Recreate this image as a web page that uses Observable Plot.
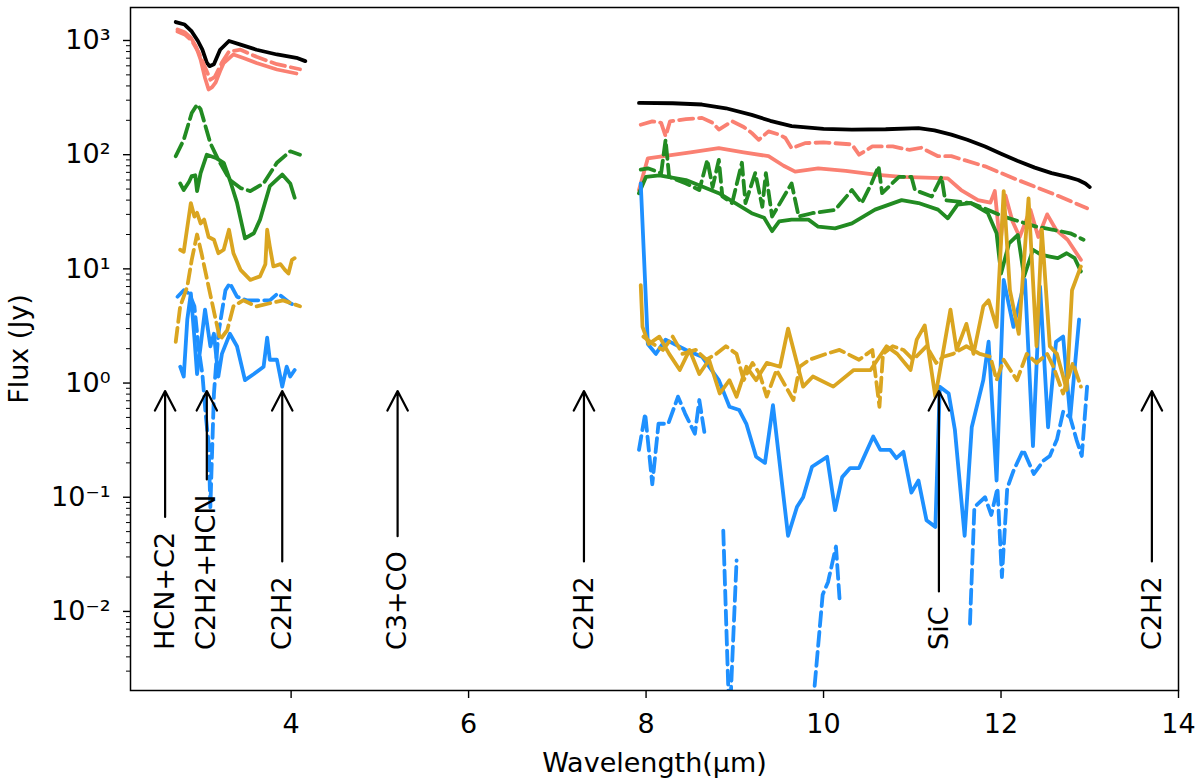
<!DOCTYPE html>
<html>
<head>
<meta charset="utf-8">
<script src="https://cdn.jsdelivr.net/npm/d3@7"></script>
<script src="https://cdn.jsdelivr.net/npm/@observablehq/plot@0.6"></script>
<style>
    body { margin: 0; background: white; }
</style>
</head>
<body>
<div id="chart"></div>
<script>
// spectra: [wavelength (µm), flux (Jy)], null = gap
const blackSolid = [
    [2.70, 1450], [2.80, 1380], [2.88, 1200], [2.95, 990], [3.00, 830], [3.05, 640], [3.08, 596],
    [3.13, 620], [3.20, 830], [3.30, 990], [3.43, 920], [3.61, 830], [3.84, 754], [4.06, 705], [4.16, 660],
    [5.5, null],
    [7.92, 284], [8.30, 282], [8.63, 275], [8.90, 255], [9.19, 223], [9.40, 198], [9.64, 178], [10.0, 168],
    [10.32, 166], [10.70, 167], [11.07, 171], [11.25, 163], [11.44, 150], [11.62, 135], [11.82, 118],
    [12.0, 102], [12.19, 88], [12.38, 77], [12.57, 69], [12.75, 64], [12.87, 60], [12.95, 56], [13.0, 52]
];
const salmonSolid = [
    [2.72, 1250], [2.80, 1180], [2.87, 1060], [2.93, 880], [2.98, 680], [3.03, 470], [3.07, 372],
    [3.11, 390], [3.15, 430], [3.20, 540], [3.24, 635], [3.35, 755], [3.47, 700], [3.61, 635],
    [3.84, 557], [4.06, 514],
    [5.5, null],
    [7.92, 49], [8.02, 93], [8.20, 97], [8.50, 105], [8.82, 114], [9.10, 105], [9.38, 97], [9.55, 80],
    [9.68, 71], [9.94, 76], [10.25, 72], [10.58, 67], [10.88, 64], [11.15, 63], [11.40, 62], [11.55, 49],
    [11.74, 40], [11.88, 38], [11.93, 48], [11.99, 16], [12.05, 44], [12.13, 26], [12.21, 19], [12.33, 33],
    [12.42, 19], [12.52, 30], [12.62, 22], [12.75, 18], [12.90, 12]
];
const salmonDashed = [
    [2.72, 1200], [2.80, 1130], [2.88, 1000], [2.96, 780], [3.04, 560], [3.09, 453], [3.14, 480],
    [3.22, 640], [3.30, 800], [3.43, 830], [3.61, 720], [3.84, 620], [4.10, 560],
    [5.5, null],
    [7.94, 183], [8.07, 196], [8.17, 190], [8.22, 145], [8.27, 196], [8.45, 205], [8.63, 210], [8.75, 190],
    [8.82, 166], [8.97, 196], [9.10, 175], [9.19, 155], [9.27, 135], [9.38, 160], [9.50, 150], [9.57, 140],
    [9.64, 114], [9.79, 126], [10.0, 128], [10.32, 123], [10.40, 100], [10.55, 118], [10.78, 118],
    [10.97, 110], [11.10, 115], [11.29, 97], [11.44, 97], [11.82, 79], [12.19, 60], [12.57, 46], [12.97, 34]
];
const greenSolid = [
    [2.75, 56], [2.79, 49], [2.85, 58], [2.88, 65], [2.92, 66], [2.94, 48], [2.98, 69], [3.05, 100],
    [3.16, 93], [3.24, 85], [3.31, 60], [3.39, 38], [3.48, 18.5], [3.58, 20.5], [3.65, 27], [3.76, 53],
    [3.90, 67], [3.99, 56], [4.04, 42],
    [5.5, null],
    [7.92, 46], [8.00, 64], [8.15, 66], [8.45, 60], [8.82, 46], [9.19, 30.7], [9.33, 28], [9.42, 21.4],
    [9.50, 26], [9.64, 27], [9.83, 27], [9.94, 23.4], [10.13, 22.6], [10.32, 25], [10.58, 33], [10.88, 40],
    [11.07, 37.7], [11.29, 33], [11.40, 27.7], [11.51, 36.5], [11.66, 37.7], [11.85, 31], [11.95, 20.5],
    [12.0, 9.1], [12.09, 16.7], [12.19, 19.8], [12.26, 8.6], [12.36, 14.7], [12.45, 13.3], [12.55, 12.8],
    [12.64, 12.4], [12.74, 13.7], [12.83, 12.4], [12.90, 9.5]
];
const greenDashed = [
    [2.70, 97], [2.79, 135], [2.88, 232], [2.94, 275], [2.98, 250], [3.09, 126], [3.18, 90], [3.31, 60],
    [3.43, 51], [3.54, 48], [3.69, 56], [3.84, 85], [3.99, 107], [4.10, 100],
    [5.5, null],
    [7.94, 74], [8.02, 76], [8.17, 69], [8.22, 135], [8.26, 64], [8.45, 56], [8.60, 49], [8.69, 90],
    [8.75, 52], [8.82, 90], [8.86, 43], [8.97, 37.7], [9.08, 85], [9.12, 37.7], [9.23, 69], [9.31, 35],
    [9.35, 69], [9.42, 28.7], [9.64, 56], [9.72, 28.7], [9.87, 30.7], [10.13, 32.8], [10.32, 49],
    [10.43, 37.7], [10.54, 56], [10.62, 79], [10.66, 46], [10.85, 64], [10.99, 64], [11.03, 49],
    [11.22, 43], [11.33, 64], [11.37, 40], [11.66, 37.7], [11.85, 33], [12.03, 28.7], [12.40, 23.4],
    [12.59, 22], [12.78, 20.5], [12.93, 18]
];
const goldSolid = [
    [2.75, 14.7], [2.79, 14.1], [2.87, 37.7], [2.91, 28.7], [2.94, 31], [2.98, 25], [3.02, 27],
    [3.07, 19], [3.13, 18], [3.18, 13.7], [3.24, 14.7], [3.30, 22], [3.35, 13.7], [3.43, 9.8], [3.54, 8],
    [3.65, 8.6], [3.71, 11], [3.73, 22], [3.76, 15.7], [3.80, 10.5], [3.88, 11], [3.93, 9.8], [3.97, 9.1],
    [4.01, 12], [4.04, 12.4],
    [5.5, null],
    [7.94, 7.2], [7.96, 3.1], [8.03, 2.2], [8.15, 2.55], [8.26, 1.8], [8.38, 1.3], [8.49, 1.95], [8.60, 1.2],
    [8.71, 1.6], [8.83, 0.81], [8.94, 1.06], [9.02, 0.76], [9.13, 1.39], [9.24, 1.06], [9.36, 1.5],
    [9.51, 1.39], [9.60, 3.0], [9.77, 0.93], [9.88, 1.14], [10.11, 0.93], [10.34, 1.3], [10.53, 1.3],
    [10.71, 2.1], [10.83, 1.8], [10.98, 1.3], [11.05, 2.4], [11.14, 3.2], [11.26, 0.76], [11.43, 4.4],
    [11.50, 1.95], [11.61, 3.3], [11.69, 1.8], [11.80, 4.7], [11.86, 5.3], [11.95, 3.1], [12.03, 48],
    [12.10, 6.5], [12.20, 2.7], [12.31, 41.5], [12.40, 2.1], [12.46, 22], [12.55, 2.1], [12.63, 1.8],
    [12.70, 1.14], [12.74, 0.87], [12.80, 6.5], [12.90, 10.5]
];
const goldDashed = [
    [2.70, 2.3], [2.75, 4.7], [2.83, 7], [2.88, 12], [2.94, 20], [2.99, 13.7], [3.07, 7], [3.15, 3.6],
    [3.20, 2.4], [3.28, 2.9], [3.35, 4.7], [3.46, 5.3], [3.61, 4.7], [3.76, 5], [3.91, 5.3], [4.10, 4.7],
    [5.5, null],
    [7.97, 2.55], [8.08, 2.2], [8.19, 1.95], [8.30, 2.55], [8.41, 1.8], [8.56, 1.95], [8.68, 1.6],
    [8.79, 1.8], [8.90, 2.1], [9.02, 1.8], [9.10, 1.06], [9.20, 1.5], [9.28, 1.2], [9.36, 0.76], [9.47, 1.3],
    [9.66, 0.71], [9.73, 1.39], [9.84, 1.6], [10.03, 1.8], [10.18, 1.95], [10.40, 1.6], [10.55, 1.95],
    [10.63, 0.62], [10.67, 1.8], [10.78, 2.1], [10.90, 1.95], [11.01, 1.6], [11.16, 2.1], [11.27, 1.5],
    [11.35, 1.7], [11.46, 1.8], [11.61, 2.1], [11.76, 1.8], [11.88, 1.7], [11.95, 1.06], [12.03, 1.6],
    [12.18, 1.06], [12.29, 1.8], [12.40, 1.5], [12.52, 1.8], [12.59, 1.39], [12.70, 0.81], [12.81, 1.5],
    [12.90, 0.93]
];
const blueSolid = [
    [2.75, 1.39], [2.79, 1.14], [2.83, 3.6], [2.87, 6.1], [2.91, 2.5], [2.94, 1.2], [2.98, 2.1],
    [3.03, 4.4], [3.09, 2.1], [3.13, 2.7], [3.18, 1.14], [3.22, 1.8], [3.31, 2.7], [3.39, 2.1], [3.48, 1.06],
    [3.58, 1.2], [3.69, 1.39], [3.73, 2.5], [3.76, 1.6], [3.84, 1.6], [3.90, 0.93], [3.95, 1.39],
    [3.99, 1.14], [4.04, 1.3],
    [5.5, null],
    [7.94, 56], [8.02, 2.2], [8.11, 1.8], [8.22, 2.4], [8.45, 1.95], [8.63, 1.7], [8.82, 1.06], [8.94, 0.62],
    [9.05, 0.58], [9.13, 0.44], [9.24, 0.226], [9.34, 0.2], [9.43, 0.64], [9.60, 0.046], [9.70, 0.082],
    [9.77, 0.1], [9.87, 0.185], [10.04, 0.226], [10.13, 0.077], [10.21, 0.15], [10.30, 0.18], [10.40, 0.18],
    [10.45, 0.22], [10.56, 0.34], [10.64, 0.26], [10.75, 0.26], [10.82, 0.22], [10.90, 0.25], [10.99, 0.11],
    [11.07, 0.14], [11.16, 0.063], [11.26, 0.055], [11.31, 0.93], [11.41, 0.81], [11.48, 0.39],
    [11.59, 0.046], [11.67, 0.41], [11.80, 1.06], [11.86, 2.3], [11.95, 0.14], [12.03, 8], [12.14, 3.1],
    [12.27, 8], [12.36, 0.28], [12.44, 7], [12.53, 0.41], [12.62, 2.3], [12.70, 2.55], [12.78, 0.5],
    [12.88, 3.6]
];
const blueDashed = [
    [2.72, 5.7], [2.79, 6.5], [2.85, 6.1], [2.91, 4.7], [2.96, 1.95], [3.00, 1.2], [3.04, 0.5], [3.07, 0.3],
    [3.09, 0.082], [3.13, 0.8], [3.18, 2.7], [3.26, 6.5], [3.31, 7.5], [3.39, 5.7], [3.50, 5.3], [3.65, 5.3],
    [3.76, 5.3], [3.85, 6.1], [3.99, 5], [4.07, 4.7],
    [5.5, null],
    [7.92, 0.26], [7.99, 0.54], [8.07, 0.13], [8.14, 0.44], [8.25, 0.44], [8.36, 0.76], [8.44, 0.54],
    [8.55, 0.36], [8.60, 0.71], [8.66, 0.36],
    [8.75, null],
    [8.87, 0.051], [8.94, 0.001], [9.02, 0.028],
    [9.4, null],
    [9.86, 0.001], [9.99, 0.014], [10.05, 0.018], [10.14, 0.037], [10.18, 0.013],
    [11.0, null],
    [11.65, 0.0078], [11.70, 0.082], [11.82, 0.1], [11.89, 0.07], [11.96, 0.12], [12.01, 0.02],
    [12.07, 0.12], [12.14, 0.17], [12.25, 0.26], [12.37, 0.16], [12.48, 0.21], [12.55, 0.23],
    [12.63, 0.32], [12.70, 0.56], [12.78, 0.5], [12.85, 0.32], [12.91, 0.23], [12.97, 0.93]
];

// line identifications
const lineLabels = ["HCN+C2", "C2H2+HCN", "C2H2", "C3+CO", "C2H2", "SiC", "C2H2"];
const lineWavelengths = [2.58, 3.05, 3.90, 5.20, 7.30, 11.30, 13.70];
const arrowTip = 1;
const labelBase = 0.0046;

const xTicks = [4, 6, 8, 10, 12, 14];
const yTicks = [1e-2, 1e-1, 1, 10, 100, 1000];

const xDomain = [2.19, 14.0];
const yDomain = [0.00203, 1945];

const series = [
    { data: blackSolid, color: "black", dashed: false },
    { data: salmonSolid, color: "#FA8072", dashed: false },
    { data: salmonDashed, color: "#FA8072", dashed: true },
    { data: greenSolid, color: "#228B22", dashed: false },
    { data: greenDashed, color: "#228B22", dashed: true },
    { data: blueSolid, color: "#1E90FF", dashed: false },
    { data: blueDashed, color: "#1E90FF", dashed: true },
    { data: goldSolid, color: "#DAA520", dashed: false },
    { data: goldDashed, color: "#DAA520", dashed: true },
];

const fontFamily = "DejaVu Sans";
const fontSize = 27;

// minor log ticks 2..9 x 10^k inside the domain
const minorTicks = [];
for (let e = -3; e <= 3; e++) {
    for (let m = 2; m <= 9; m++) {
        const v = m * Math.pow(10, e);
        if (v >= yDomain[0] && v <= yDomain[1]) minorTicks.push(v);
    }
}

const sup = { "-": "⁻", "0": "⁰", "1": "¹", "2": "²", "3": "³", "4": "⁴" };
function powerLabel(d) {
    const e = String(Math.round(Math.log10(d)));
    return "10" + e.split("").map((c) => sup[c]).join("");
}

// text widths so the arrow tails stop just above the rotated labels
const ctx = document.createElement("canvas").getContext("2d");
ctx.font = fontSize + "px '" + fontFamily + "'";
const textWidth = (s) => ctx.measureText(s).width;

const chart = Plot.plot({
    width: 1200,
    height: 784,
    marginLeft: 130,
    marginRight: 22,
    marginTop: 7,
    marginBottom: 94,
    style: { fontFamily: fontFamily, fontSize: fontSize + "px", background: "white", color: "black" },
    x: { domain: xDomain },
    y: { type: "log", domain: yDomain },
    marks: [
        ...series.map((s) =>
            Plot.line(s.data, {
                x: (d) => d[0],
                y: (d) => d[1],
                stroke: s.color,
                strokeWidth: 3.8,
                strokeDasharray: s.dashed ? "14,6" : null,
                strokeLinejoin: "round",
                clip: true,
            })
        ),
        ...lineLabels.map((label, i) =>
            Plot.arrow([i], {
                x1: () => lineWavelengths[i],
                y1: () => labelBase,
                x2: () => lineWavelengths[i],
                y2: () => arrowTip,
                stroke: "black",
                strokeWidth: 2.2,
                headLength: 15,
                headAngle: 55,
                insetStart: textWidth(label) + 15,
                insetEnd: 8,
            })
        ),
        Plot.text(lineLabels, {
            x: lineWavelengths,
            y: lineLabels.map(() => labelBase),
            text: (d) => d,
            rotate: -90,
            textAnchor: "start",
            lineAnchor: "middle",
            fontSize: fontSize,
            fill: "black",
        }),
        Plot.axisX({
            ticks: xTicks,
            tickSize: 8,
            tickPadding: 15,
            tickFormat: (d) => String(d),
            fontSize: fontSize,
            strokeWidth: 1.4,
            label: null,
        }),
        Plot.axisY({
            ticks: yTicks,
            tickSize: 7,
            tickPadding: 13,
            tickFormat: powerLabel,
            fontSize: fontSize,
            strokeWidth: 1.4,
            label: null,
        }),
        Plot.axisY({
            ticks: minorTicks,
            tickSize: 4,
            tickFormat: () => "",
            strokeWidth: 1,
            label: null,
        }),
        Plot.frame({ stroke: "black", strokeWidth: 1.5 }),
        Plot.text(["Flux (Jy)"], {
            frameAnchor: "left",
            dx: -111,
            rotate: -90,
            textAnchor: "middle",
            lineAnchor: "middle",
            fontSize: fontSize,
        }),
        Plot.text(["Wavelength(μm)"], {
            frameAnchor: "bottom",
            dy: 73,
            lineAnchor: "middle",
            fontSize: fontSize,
        }),
    ],
});

document.querySelector("#chart").append(chart);
</script>
</body>
</html>
